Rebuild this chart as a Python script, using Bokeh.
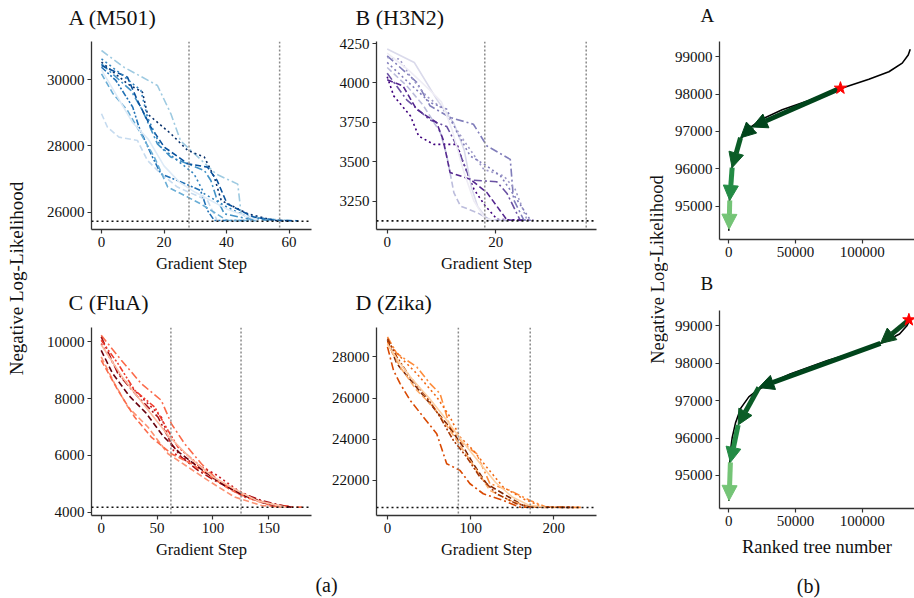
from bokeh.plotting import figure
from bokeh.layouts import row, column
from bokeh.models import (Span, Label, FixedTicker, BasicTickFormatter, Range1d,
                          Arrow, NormalHead)
from bokeh.embed import file_html
from bokeh.resources import INLINE

FONT = "Liberation Serif"

# ---------------- (a) data: negative log-likelihood vs gradient step ----------------
m501_x = [
    [0, 7.2, 17.9, 22.2, 25.3, 36.7, 43.6, 44.7, 52, 62.6],
    [0, 1.9, 5.6, 11.5, 14.7, 19, 24.3, 33.9, 37, 45],
    [0, 8.3, 13.1, 14.7, 22.2, 27.6, 32.9, 36.1, 38.3, 46.8, 55.3, 60],
    [0, 9.4, 13.1, 17.9, 22.2, 32.9, 35, 36.7, 39.3, 46.8, 55],
    [0, 4.6, 10, 12, 15.8, 19, 24.3, 31.7, 33.9, 36.1, 48],
    [0, 3.7, 8.3, 12.6, 16.9, 21.2, 27.6, 31.7, 40.2, 50],
    [0, 8.3, 11.5, 15.8, 20.1, 27.6, 33.9, 37, 40.2, 48.7, 56.2, 63],
    [0, 6.2, 12.6, 14.7, 19, 24.3, 29.6, 32.9, 40.2, 46.8, 58],
    [0, 5, 10, 15, 20, 25, 30, 40, 50],
]
m501_y = [
    [30885, 30380, 29828, 28973, 28158, 27151, 26848, 25942, 25800, 25740],
    [28973, 28570, 28268, 28167, 27563, 27161, 26758, 26355, 25751, 25745],
    [30532, 29879, 29627, 28973, 28369, 27865, 27664, 27060, 26355, 25952, 25751, 25740],
    [30481, 29678, 29074, 28066, 27664, 27261, 26959, 26456, 25952, 25801, 25745],
    [30380, 29980, 29174, 28570, 27765, 27161, 26959, 26657, 26053, 25751, 25745],
    [30180, 29577, 29074, 28369, 27664, 26758, 26456, 26254, 25751, 25745],
    [30430, 30080, 29376, 28570, 27966, 27463, 27362, 26959, 26254, 25851, 25751, 25740],
    [30632, 30180, 29678, 28872, 27966, 27563, 27161, 26556, 26153, 25851, 25745],
    [30300, 29500, 28700, 28200, 27400, 26900, 26600, 26100, 25760],
]
m501_opt = 25728
m501_vlines = [28, 57]
m501_xticks = [0, 20, 40, 60]
m501_yticks = [26000, 28000, 30000]

h3n2_x = [
    [0, 1.2, 4.3, 5.8, 8.6, 12.9, 13.8, 16, 18.1, 20.3, 26.4],
    [0, 3.6, 7.9, 11, 12.9, 15.3, 20.2, 22.1, 24.5, 27],
    [0, 5.5, 7.9, 11.6, 15.9, 18.4, 22.7, 23.3, 25.2, 27],
    [0, 2.3, 4.2, 7.2, 10.3, 14, 17.8, 21.5, 23.6, 25.8],
    [0, 5, 9.2, 12.3, 14.2, 15.5, 16.7, 18.6, 22],
    [0, 3.6, 6.7, 9.8, 11, 12.3, 13.5, 16.6, 19.1, 22],
    [0, 2.9, 5.4, 9.1, 10.3, 11.6, 15.3, 18.4, 20.2, 22.1, 25],
    [0, 3.6, 7.9, 11, 12.9, 15.3, 18.4, 20.9, 23.9, 26.4],
    [0, 4, 8, 10, 12, 14, 16, 18, 20],
]
h3n2_y = [
    [4040, 3918, 3790, 3663, 3610, 3610, 3515, 3325, 3219, 3134, 3128],
    [4062, 3893, 3765, 3723, 3596, 3384, 3373, 3299, 3130, 3128],
    [4172, 4003, 3855, 3781, 3738, 3600, 3515, 3261, 3130, 3128],
    [4161, 4151, 4045, 3918, 3833, 3642, 3452, 3410, 3325, 3130],
    [4215, 4130, 3893, 3744, 3575, 3342, 3215, 3130, 3128],
    [4098, 3982, 3855, 3685, 3537, 3304, 3219, 3177, 3130, 3128],
    [4020, 3982, 3833, 3749, 3642, 3431, 3389, 3304, 3219, 3130, 3128],
    [4130, 4014, 3876, 3833, 3685, 3537, 3473, 3410, 3261, 3130],
    [4190, 4080, 3950, 3880, 3700, 3450, 3250, 3140, 3128],
]
h3n2_opt = 3125
h3n2_vlines = [18, 36.7]
h3n2_xticks = [0, 20]
h3n2_yticks = [3250, 3500, 3750, 4000, 4250]

flua_x = [
    [0, 18, 35.9, 53.8, 62.8, 74.7, 89.7, 104.6, 125.5, 149.4, 173.3, 180],
    [0, 12, 23.9, 41.8, 59.8, 77.7, 95.6, 119.5, 143.5, 161.4],
    [0, 15, 32.9, 50.8, 62.8, 71.7, 86.7, 101.6, 119.5, 143.5, 167.4],
    [0, 18, 38.9, 53.8, 65.7, 83.7, 101.6, 122.5, 146.4, 158.4],
    [0, 15, 29.9, 47.8, 59.8, 68.7, 89.7, 107.6, 128.5, 155.4, 173.3],
    [0, 15, 29.9, 44.8, 62.8, 80.7, 98.6, 116.6, 137.5, 158.4],
    [0, 10, 25, 40, 55, 70, 90, 110, 130, 150, 170],
    [0, 20, 40, 60, 80, 100, 120, 140, 165],
]
flua_y = [
    [10236, 9353, 8530, 7942, 7119, 6413, 5708, 5120, 4650, 4297, 4180, 4178],
    [9471, 8530, 7707, 7002, 6061, 5591, 5120, 4532, 4238, 4180],
    [10176, 8883, 8060, 7355, 6413, 5943, 5473, 5120, 4767, 4414, 4180],
    [9941, 8765, 7942, 7355, 6061, 5708, 5355, 4767, 4297, 4180],
    [10059, 9236, 8295, 7707, 6884, 6296, 5591, 5002, 4532, 4238, 4180],
    [9353, 8295, 7355, 6649, 6061, 5708, 5238, 4767, 4414, 4180],
    [9700, 8900, 8100, 7500, 6700, 6100, 5500, 4950, 4550, 4280, 4180],
    [9900, 8700, 7700, 6700, 5900, 5250, 4800, 4400, 4180],
]
flua_opt = 4176
flua_vlines = [62.4, 125.2]
flua_xticks = [0, 50, 100, 150]
flua_yticks = [4000, 6000, 8000, 10000]

zika_x = [
    [0, 11.2, 35.2, 51.2, 63.2, 75.2, 91.2, 107.2, 123.2, 147.2, 171.2, 191.2, 235],
    [0, 7.2, 15.2, 27.2, 43.2, 59.2, 71.2, 87.2, 99.2, 115.2, 139.2, 159.2, 200],
    [0, 11.2, 31.2, 51.2, 71.2, 91.2, 103.2, 119.2, 139.2, 163.2, 183.2, 220],
    [0, 15.2, 35.2, 55.2, 75.2, 91.2, 107.2, 123.2, 147.2, 171.2, 210],
    [0, 19.2, 35.2, 59.2, 75.2, 87.2, 103.2, 119.2, 139.2, 163.2, 187.2, 230],
    [0, 11.2, 27.2, 47.2, 63.2, 79.2, 95.2, 111.2, 131.2, 155.2, 175.2, 225],
    [0, 15, 30, 50, 70, 90, 110, 130, 150, 170, 190],
]
zika_y = [
    [28973, 28165, 27516, 26705, 26218, 24596, 23785, 23299, 21839, 21515, 21028, 20704, 20690],
    [28487, 27351, 26705, 25894, 25083, 24272, 22813, 22488, 21839, 21353, 21028, 20704, 20690],
    [28811, 27676, 26705, 25732, 24759, 23624, 22813, 21839, 21353, 20785, 20704, 20690],
    [28649, 27514, 26380, 25569, 24434, 23461, 22488, 21515, 21028, 20704, 20690],
    [28730, 27838, 27190, 26056, 25083, 24110, 23461, 22651, 21677, 21109, 20704, 20690],
    [28892, 28000, 27027, 26056, 25083, 23947, 23137, 22164, 21353, 20866, 20704, 20690],
    [28600, 27700, 26900, 26000, 25000, 23900, 22900, 21900, 21200, 20800, 20700],
]
zika_opt = 20686
zika_vlines = [85.2, 171.6]
zika_xticks = [0, 100, 200]
zika_yticks = [22000, 24000, 26000, 28000]

# ---------------- (b) data: ranked trees ----------------
rankA_x = [0, 300, 1000, 2500, 5000, 9000, 15000, 25000, 40000, 60000, 84000, 105000, 120000, 130000, 134500, 136000]
rankA_y = [94340, 95000, 95600, 96050, 96450, 96800, 97080, 97330, 97580, 97830, 98150, 98400, 98600, 98830, 99050, 99200]
pathA_x = [83700, 17500, 8800, 2500, 700, 200]
pathA_y = [98160, 97120, 96830, 96030, 95150, 94380]

rankB_x = [0, 300, 1000, 2500, 5000, 9000, 15000, 21000, 30000, 46000, 74000, 99000, 116000, 128000, 133500, 135500]
rankB_y = [94320, 95000, 95600, 96000, 96400, 96800, 97100, 97270, 97450, 97710, 98070, 98340, 98560, 98780, 99000, 99150]
pathB_x = [135000, 113700, 22500, 7000, 1200, 200]
pathB_y = [99160, 98530, 97350, 96350, 95350, 94330]

rank_xticks = [0, 50000, 100000]
rank_yticks = [95000, 96000, 97000, 98000, 99000]

# ---------------- styles ----------------
D_DASH = "6 3"
D_DOT = "2 3"
D_DDOT = "8 3 2 3"
D_DDD = "6 2 2 2 2 2"
SOLID = "solid"

m501_colors = ["#9ecae1", "#c6dbef", "#08306b", "#4292c6", "#2171b5", "#6baed6", "#08519c", "#3182bd", "#deebf7"]
m501_dash = [D_DDOT, D_DASH, D_DOT, D_DDOT, D_DDD, D_DASH, D_DASH, D_DOT, SOLID]
h3n2_colors = ["#3f007d", "#6a51a3", "#807dba", "#9e9ac8", "#dadaeb", "#bcbddc", "#54278f", "#807dba", "#efedf5"]
h3n2_dash = [D_DOT, D_DDOT, D_DDOT, D_DOT, SOLID, D_DASH, D_DASH, D_DOT, SOLID]
flua_colors = ["#fb6a4a", "#fc9272", "#a50f15", "#cb181d", "#ef3b2c", "#fb6a4a", "#67000d", "#fcbba1"]
flua_dash = [D_DDOT, D_DASH, D_DDOT, D_DOT, D_DDD, D_DASH, D_DASH, SOLID]
zika_colors = ["#fd8d3c", "#d94801", "#7f2704", "#fdae6b", "#f16913", "#a63603", "#fdd0a2"]
zika_dash = [D_DDOT, D_DDOT, D_DASH, D_DASH, D_DOT, D_DDD, SOLID]
arrowA_colors = ["#00441b", "#00441b", "#0b5d27", "#238b45", "#74c476"]
arrowB_colors = ["#0a4a1f", "#00441b", "#0b5d27", "#238b45", "#74c476"]

TICK_SIZE = "15px"
AX_COLOR = "#333333"


def style(p, xt, yt):
    p.xaxis.ticker = FixedTicker(ticks=xt)
    p.yaxis.ticker = FixedTicker(ticks=yt)
    p.xaxis.formatter = BasicTickFormatter(use_scientific=False)
    p.yaxis.formatter = BasicTickFormatter(use_scientific=False)
    for ax in (p.xaxis[0], p.yaxis[0]):
        ax.axis_line_color = AX_COLOR
        ax.axis_line_width = 1.3
        ax.major_tick_line_color = AX_COLOR
        ax.major_tick_line_width = 1.2
        ax.major_tick_in = 0
        ax.major_tick_out = 4
        ax.minor_tick_line_color = None
        ax.major_label_text_font = FONT
        ax.major_label_text_font_size = TICK_SIZE
        ax.major_label_text_color = "#111111"
        ax.major_label_standoff = 3
        ax.axis_label_text_font = FONT
        ax.axis_label_text_font_style = "normal"
        ax.axis_label_text_color = "#111111"
        ax.axis_label_standoff = 4
    p.grid.visible = False
    p.outline_line_color = None


def make(w, h, bl, br, bt, bb, xr, yr):
    return figure(width=w, height=h, x_range=Range1d(*xr), y_range=Range1d(*yr),
                  output_backend="svg", toolbar_location=None, title=None,
                  min_border_left=bl, min_border_right=br,
                  min_border_top=bt, min_border_bottom=bb)


def run_panel(w, h, bl, br, bt, bb, xr, yr, xs, ys, colors, dashes, opt, vlines, xt, yt):
    p = make(w, h, bl, br, bt, bb, xr, yr)
    for i, (x, y) in enumerate(zip(xs, ys)):
        p.line(x, y, line_color=colors[i], line_dash=dashes[i], line_width=1.6)
    for v in vlines:
        p.add_layout(Span(location=v, dimension="height", line_color="#8a8a8a",
                          line_dash="2 2", line_width=1.5))
    p.add_layout(Span(location=opt, dimension="width", line_color="#111111",
                      line_dash="2 3", line_width=1.6))
    style(p, xt, yt)
    p.xaxis.axis_label = "Gradient Step"
    p.xaxis.axis_label_text_font_size = "16.5px"
    return p


def rank_panel(w, h, bl, br, bt, bb, xr, yr, cx, cy, px, py, acolors, xlabel=None):
    p = make(w, h, bl, br, bt, bb, xr, yr)
    p.line(cx, cy, line_color="black", line_width=1.6)
    for i in range(len(px) - 1):
        c = acolors[i]
        p.add_layout(Arrow(end=NormalHead(size=15, fill_color=c, line_color=c, line_width=1),
                           x_start=px[i], y_start=py[i], x_end=px[i + 1], y_end=py[i + 1],
                           line_color=c, line_width=5))
    star = p.scatter([px[0]], [py[0]], marker="star", size=13, fill_color="red", line_color="red")
    star.level = "overlay"
    style(p, rank_xticks, rank_yticks)
    if xlabel:
        p.xaxis.axis_label = xlabel
        p.xaxis.axis_label_text_font_size = "18.5px"
        p.xaxis.axis_label_standoff = 8
    return p


def blank(w, h, texts):
    """texts: list of (text, x, y, size, angle, align) in screen px from bottom-left."""
    p = figure(width=w, height=h, output_backend="svg", toolbar_location=None, title=None,
               x_axis_location=None, y_axis_location=None, min_border=0,
               x_range=Range1d(0, 1), y_range=Range1d(0, 1))
    p.outline_line_color = None
    p.grid.visible = False
    for text, x, y, size, angle, align in texts:
        p.add_layout(Label(x=x, y=y, x_units="screen", y_units="screen", text=text, angle=angle,
                           text_font=FONT, text_font_size=size, text_align=align,
                           text_baseline="middle", text_color="#111111"))
    return p


pA = run_panel(293, 248, 63, 10, 11, 49, (-3.2, 67.2), (25477, 31157), m501_x, m501_y,
               m501_colors, m501_dash, m501_opt, m501_vlines, m501_xticks, m501_yticks)
pB = run_panel(319, 248, 55, 44, 11, 49, (-1.97, 38.6), (3070, 4263), h3n2_x, h3n2_y,
               h3n2_colors, h3n2_dash, h3n2_opt, h3n2_vlines, h3n2_xticks, h3n2_yticks)
pC = run_panel(293, 247, 63, 10, 9, 50, (-8.7, 188.3), (3884, 10508), flua_x, flua_y,
               flua_colors, flua_dash, flua_opt, flua_vlines, flua_xticks, flua_yticks)
pD = run_panel(319, 247, 55, 44, 9, 50, (-13.2, 251.3), (20297, 29430), zika_x, zika_y,
               zika_colors, zika_dash, zika_opt, zika_vlines, zika_xticks, zika_yticks)

pbA = rank_panel(246, 240, 51, 0, 11, 31, (-6975, 139200), (94105, 99410), rankA_x, rankA_y,
                 pathA_x, pathA_y, arrowA_colors)
pbB = rank_panel(246, 265, 51, 0, 10, 57, (-6975, 139200), (94116, 99410), rankB_x, rankB_y,
                 pathB_x, pathB_y, arrowB_colors, xlabel="Ranked tree number")

t_row1 = blank(612, 30, [("A (M501)", 40, 13.5, "22px", 0, "left"),
                         ("B (H3N2)", 327, 13.5, "22px", 0, "left")])
t_row2 = blank(612, 40, [("C (FluA)", 40, 16, "22px", 0, "left"),
                         ("D (Zika)", 327, 16, "22px", 0, "left")])
t_bA = blank(246, 30, [("A", 32, 15, "19px", 0, "left")])
t_bB = blank(246, 30, [("B", 32, 17, "19px", 0, "left")])

ylab_a = blank(28, 598, [("Negative Log-Likelihood", 16, 320, "19px", 1.5708, "center")])
ylab_b = blank(28, 598, [("Negative Log-Likelihood", 17, 329, "18.5px", 1.5708, "center")])
strip_a = blank(612, 33, [("(a)", 298, 14, "20px", 0, "center")])
# this strip sits in a column with the (b) plots, whose frames Bokeh aligns (51px left border)
strip_b = blank(246, 33, [("(b)", 89, 13, "20px", 0, "center")])

left = column(t_row1, row(pA, pB), t_row2, row(pC, pD), strip_a)
right = column(row(t_bA), pbA, row(t_bB), pbB, strip_b)
layout = row(ylab_a, left, ylab_b, right)

open("out.html", "w").write(file_html(layout, INLINE))
